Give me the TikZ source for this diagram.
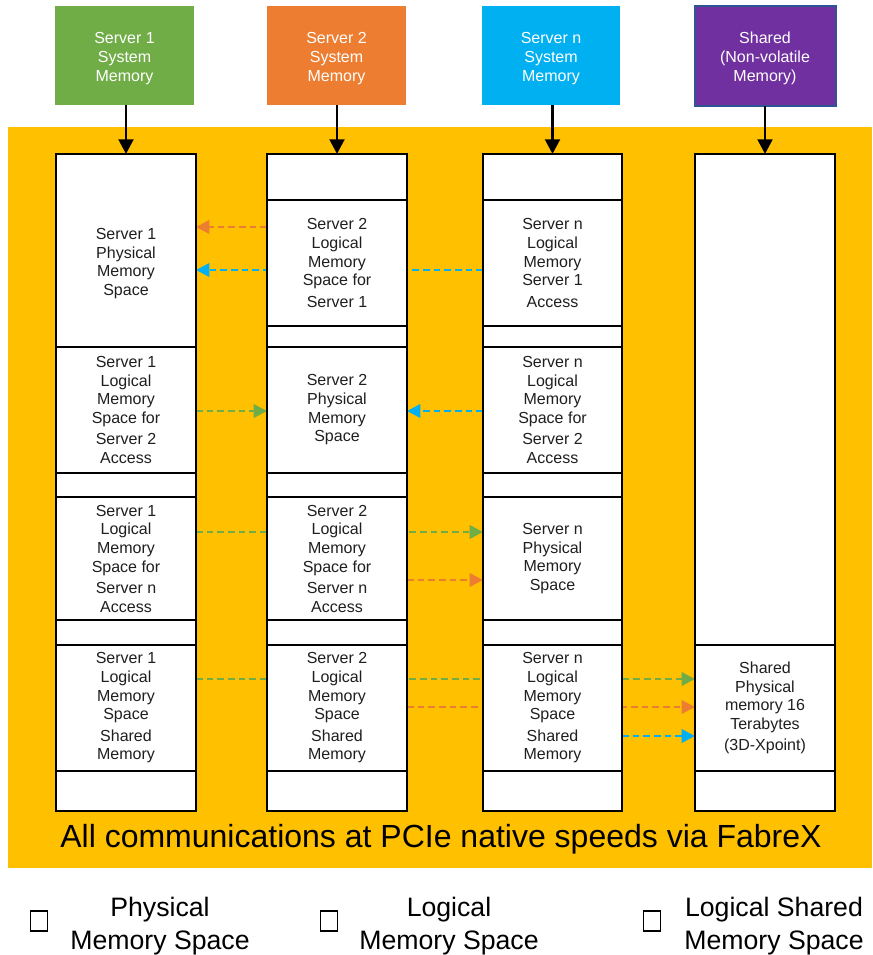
\documentclass[tikz,border=0pt]{standalone}
\usepackage{fontspec}
\setmainfont{Liberation Sans}
\usetikzlibrary{arrows.meta}
\definecolor{gold}{HTML}{FFC000}
\definecolor{sgreen}{HTML}{70AD47}
\definecolor{sorange}{HTML}{ED7D31}
\definecolor{sblue}{HTML}{00B0F0}
\definecolor{spurple}{HTML}{7030A0}
\definecolor{sborder}{HTML}{2F5597}
\definecolor{tdark}{HTML}{1F1F1F}
\pgfdeclarelayer{back}
\pgfdeclarelayer{mid}
\pgfsetlayers{back,mid,main}
\newcommand\segbox[6]{%
  \node[seg, minimum width={(#4-#2)*0.75pt}, minimum height={(#5-#3)*0.75pt}] (#1) at ({(#2+#4)/2},{(#3+#5)/2}) {#6};}
\newcommand\topbx[7]{%
  \node[topbox, fill=#7, minimum width={(#4-#2)*0.75pt}, minimum height={(#5-#3)*0.75pt},
    label={[toptext]center:#6}] (#1) at ({(#2+#4)/2},{(#3+#5)/2}) {};}
\begin{document}
\begin{tikzpicture}[x=0.75pt,y=-0.75pt,
  seg/.style={draw=black, fill=white, line width=2pt, inner sep=0pt, outer sep=0pt, align=center, text=tdark, font=\fontsize{12}{14}\selectfont},
  segtext/.style={inner sep=0pt, align=center, text=tdark, font=\fontsize{12}{14}\selectfont},
  topbox/.style={inner sep=0pt, outer sep=0pt},
  toptext/.style={inner sep=0pt, align=center, text=white, yshift=-2.2pt, font=\fontsize{12}{14}\selectfont},
  feed/.style={line width=2.2pt, -{Triangle[length=11pt,width=11pt]}},
  link/.style={line width=1.9pt, dash pattern=on 5pt off 3pt, -{Triangle[length=10pt,width=10pt]}},
  legtext/.style={align=center, inner sep=0pt, font=\fontsize{20}{24.75}\selectfont},
  legbox/.style={draw=black, line width=1.1pt, minimum width=13pt, minimum height=15pt, inner sep=0pt}
  ]
\useasboundingbox (0,0) rectangle (872,955);
\begin{pgfonlayer}{back}
  \fill[gold] (8,127) rectangle (872,868);
\end{pgfonlayer}

% top boxes
\topbx{t1}{55}{6}{194}{105}{Server 1\\System\\Memory}{sgreen}
\topbx{t2}{267}{6}{406}{105}{Server 2\\System\\Memory}{sorange}
\topbx{tn}{482}{6}{620}{105}{Server n\\System\\Memory}{sblue}
\node[topbox, fill=spurple, draw=sborder, line width=1.5pt, minimum width={141*0.75pt}, minimum height={100*0.75pt},
  label={[toptext, yshift=0.8pt]center:Shared\\(Non-volatile\\Memory)}] (ts) at (765,56.5) {};

% column 1
\segbox{a1}{56}{154}{196}{347}{}
\segbox{b1}{56}{347}{196}{473}{Server 1\\Logical\\Memory\\Space for\\[2pt]Server 2\\Access}
\segbox{e1}{56}{473}{196}{497}{}
\segbox{f1}{56}{497}{196}{620}{Server 1\\Logical\\Memory\\Space for\\[2pt]Server n\\Access}
\segbox{g1}{56}{620}{196}{645}{}
\segbox{h1}{56}{645}{196}{771}{Server 1\\Logical\\Memory\\Space\\[2pt]Shared\\Memory}
\segbox{i1}{56}{771}{196}{811}{}
\node[segtext] (p1) at (126,263.5) {Server 1\\Physical\\Memory\\Space};

% column 2
\segbox{a2}{267}{154}{407}{200}{}
\segbox{b2}{267}{200}{407}{326}{Server 2\\Logical\\Memory\\Space for\\[2pt]Server 1}
\segbox{c2}{267}{326}{407}{347}{}
\segbox{d2}{267}{347}{407}{473}{Server 2\\Physical\\Memory\\Space}
\segbox{e2}{267}{473}{407}{497}{}
\segbox{f2}{267}{497}{407}{620}{Server 2\\Logical\\Memory\\Space for\\[2pt]Server n\\Access}
\segbox{g2}{267}{620}{407}{645}{}
\segbox{h2}{267}{645}{407}{771}{Server 2\\Logical\\Memory\\Space\\[2pt]Shared\\Memory}
\segbox{i2}{267}{771}{407}{811}{}

% column n
\segbox{an}{483}{154}{622}{200}{}
\segbox{bn}{483}{200}{622}{326}{Server n\\Logical\\Memory\\Server 1\\[2pt]Access}
\segbox{cn}{483}{326}{622}{347}{}
\segbox{dn}{483}{347}{622}{473}{Server n\\Logical\\Memory\\Space for\\[2pt]Server 2\\Access}
\segbox{en}{483}{473}{622}{497}{}
\segbox{fn}{483}{497}{622}{620}{Server n\\Physical\\Memory\\Space}
\segbox{gn}{483}{620}{622}{645}{}
\segbox{hn}{483}{645}{622}{771}{Server n\\Logical\\Memory\\Space\\[2pt]Shared\\Memory}
\segbox{in}{483}{771}{622}{811}{}

% shared column
\segbox{a4}{695}{154}{835}{645}{}
\segbox{h4}{695}{645}{835}{771}{Shared\\Physical\\memory 16\\Terabytes\\[2pt](3D-Xpoint)}
\segbox{i4}{695}{771}{835}{811}{}

% feed arrows
\draw[feed] (t1.south -| a1.north) -- (a1.north);
\draw[feed] (t2.south -| a2.north) -- (a2.north);
\draw[feed] (tn.south -| an.north) -- (an.north);
\draw[feed] (ts.south -| a4.north) -- (a4.north);

% dashed links
\begin{pgfonlayer}{mid}
  \draw[link, sorange] (b2.west |- 0,227) -- (a1.east |- 0,227);
  \draw[link, sblue] (bn.west |- 0,270) -- (a1.east |- 0,270);
  \draw[link, sgreen] (b1.east |- 0,411) -- (d2.west |- 0,411);
  \draw[link, sblue] (dn.west |- 0,411) -- (d2.east |- 0,411);
  \draw[link, sgreen] (f1.east |- 0,532) -- (fn.west |- 0,532);
  \draw[link, sorange] (f2.east |- 0,580) -- (fn.west |- 0,580);
  \draw[link, sgreen] (h1.east |- 0,679) -- (h4.west |- 0,679);
  \draw[link, sorange] (h2.east |- 0,707) -- (h4.west |- 0,707);
  \draw[link, sblue] (hn.east |- 0,736) -- (h4.west |- 0,736);
\end{pgfonlayer}

% title
\node[inner sep=0pt, font=\fontsize{24}{28}\selectfont] (title) at (441,839.5) {All communications at PCIe native speeds via FabreX};

% legend
\node[legbox] (sq1) at (39,921) {};
\node[legtext] (lg1) at (160,926.5) {Physical\\Memory Space};
\node[legbox] (sq2) at (329,921) {};
\node[legtext] (lg2) at (449,926.5) {Logical\\Memory Space};
\node[legbox] (sq3) at (652,921) {};
\node[legtext] (lg3) at (774,926.5) {Logical Shared\\Memory Space};
\end{tikzpicture}
\end{document}
